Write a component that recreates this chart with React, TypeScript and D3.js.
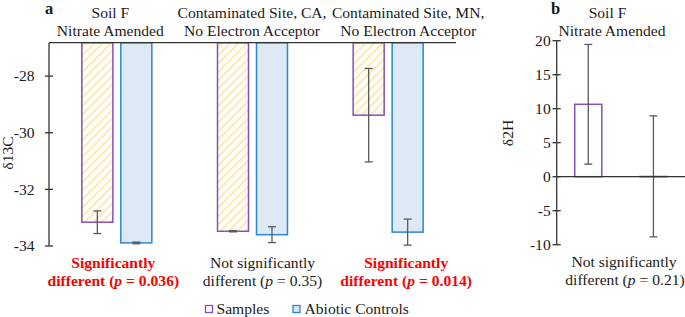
import React from "react";
import * as d3 from "d3";

const categoriesA = ["Soil F|Nitrate Amended", "Contaminated Site, CA,|No Electron Acceptor", "Contaminated Site, MN,|No Electron Acceptor"];
const seriesNames = ["Samples", "Abiotic Controls"];
const samplesA = [-33.16, -33.48, -29.38];
const samplesAErr = [0.4, 0.02, 1.65];
const abioticA = [-33.89, -33.6, -33.51];
const abioticAErr = [0.03, 0.28, 0.46];
const ticksA = [-28, -30, -32, -34];
const notesA = [
  { l1: "Significantly", l2: "different (", p: "0.036", sig: true },
  { l1: "Not significantly", l2: "different (", p: "0.35", sig: false },
  { l1: "Significantly", l2: "different (", p: "0.014", sig: true },
];

const categoriesB = ["Soil F|Nitrate Amended"];
const samplesB = [10.65];
const samplesBErr = [8.8];
const abioticB = [0.05];
const abioticBErr = [8.9];
const ticksB = [20, 15, 10, 5, 0, -5, -10];

// layout: label offsets (px) relative to the category band centre
const headOffsetA = [-6.5, -0.5, 20];
const noteOffsetA = [-3.5, 10, 18];

const PURPLE = "#8a4cc2";
const BLUE = "#2a86d8";
const BLUEFILL = "#dde9f5";
const ERR = "#5a5a5a";
const TXT = "#1a1a1a";
const FONT = "'Liberation Serif', 'Times New Roman', serif";
const FS = 15.6;

export default function App() {
  const W = 685, H = 317;
  const xA = d3.scaleBand().domain(categoriesA).range([49, 456]).paddingInner(0).paddingOuter(0);
  const xSubA = d3.scaleBand().domain(seriesNames).range([0, xA.bandwidth()]).paddingInner(0.205).paddingOuter(0.842);
  const yA = d3.scaleLinear().domain([-34, -26.82]).range([246, 42.7]);
  const topA = yA(-26.82);

  const xB = d3.scaleBand().domain(categoriesB).range([556.7, 685]).paddingInner(0).paddingOuter(0);
  const xSubB = d3.scaleBand().domain(seriesNames).range([0, xB.bandwidth()]).paddingInner(0.585).paddingOuter(0.277);
  const yB = d3.scaleLinear().domain([-10, 20]).range([244.7, 40.7]);

  const errBar = (cx: number, y1: number, y2: number, key: string) => (
    <g key={key} stroke={ERR} strokeWidth={1.3}>
      <line x1={cx} x2={cx} y1={y1} y2={y2} />
      <line x1={cx - 4} x2={cx + 4} y1={y1} y2={y1} />
      <line x1={cx - 4} x2={cx + 4} y1={y2} y2={y2} />
    </g>
  );

  return (
    <svg width={W} height={H} style={{ position: "absolute", left: 0, top: 0 }} fontFamily={FONT}>
      <defs>
        <pattern id="hatch" patternUnits="userSpaceOnUse" width={6} height={6} patternTransform="rotate(45)">
          <rect width={6} height={6} fill="#ffffff" />
          <rect width={2.3} height={6} fill="#fbeab9" />
        </pattern>
      </defs>
      <rect width={W} height={H} fill="#fff" />

      {/* Panel a */}
      <text x={45} y={13.5} fontWeight="bold" fontSize={16.5} fill={TXT}>a</text>
      {categoriesA.map((c, i) => {
        const [l1, l2] = c.split("|");
        const cx = (xA(c) as number) + xA.bandwidth() / 2 + headOffsetA[i];
        return (
          <g key={c} fontSize={FS} fill={TXT} textAnchor="middle">
            <text x={cx} y={17.5}>{l1}</text>
            <text x={cx} y={35.5}>{l2}</text>
          </g>
        );
      })}
      {categoriesA.map((c, i) => {
        const x0 = xA(c) as number;
        const xs = x0 + (xSubA("Samples") as number);
        const xa = x0 + (xSubA("Abiotic Controls") as number);
        const bw = xSubA.bandwidth();
        return (
          <g key={"b" + c}>
            <rect x={xs} y={topA} width={bw} height={yA(samplesA[i]) - topA} fill="url(#hatch)" stroke={PURPLE} strokeWidth={1.5} />
            <rect x={xa} y={topA} width={bw} height={yA(abioticA[i]) - topA} fill={BLUEFILL} stroke={BLUE} strokeWidth={1.5} />
            {errBar(xs + bw / 2, yA(samplesA[i] + samplesAErr[i]), yA(samplesA[i] - samplesAErr[i]), "es")}
            {errBar(xa + bw / 2, yA(abioticA[i] + abioticAErr[i]), yA(abioticA[i] - abioticAErr[i]), "ea")}
          </g>
        );
      })}
      <line x1={49} x2={456} y1={topA} y2={topA} stroke="#333" strokeWidth={1.3} />
      <line x1={49} x2={49} y1={topA} y2={yA(-34)} stroke="#333" strokeWidth={1.3} />
      {ticksA.map((t) => (
        <g key={t}>
          <line x1={45} x2={53} y1={yA(t)} y2={yA(t)} stroke="#333" strokeWidth={1.3} />
          <text x={34.5} y={yA(t) + 5.2} textAnchor="end" fontSize={FS} fill={TXT}>{t < 0 ? "-" + Math.abs(t) : t}</text>
        </g>
      ))}
      <text transform="translate(12.5,153) rotate(-90)" textAnchor="middle" fontSize={FS} fill={TXT}>δ13C</text>
      {notesA.map((n, i) => {
        const c = categoriesA[i];
        const cx = (xA(c) as number) + xA.bandwidth() / 2 + noteOffsetA[i];
        const col = n.sig ? "#ff0000" : TXT;
        const fw = n.sig ? "bold" : "normal";
        return (
          <g key={"n" + i} fontSize={FS} fill={col} fontWeight={fw} textAnchor="middle">
            <text x={cx} y={268.3}>{n.l1}</text>
            <text x={cx} y={285.7}>
              {n.l2}<tspan fontStyle="italic">p</tspan>{" = " + n.p + ")"}
            </text>
          </g>
        );
      })}
      {/* Legend */}
      <rect x={205.5} y={305.5} width={7} height={7} fill="#fff" stroke={PURPLE} strokeWidth={1.3} />
      <text x={216.5} y={314.3} fontSize={FS} fill={TXT}>{seriesNames[0]}</text>
      <rect x={293} y={305.5} width={7} height={7} fill={BLUEFILL} stroke={BLUE} strokeWidth={1.3} />
      <text x={304.5} y={314.3} fontSize={FS} fill={TXT}>{seriesNames[1]}</text>

      {/* Panel b */}
      <text x={551} y={13.5} fontWeight="bold" fontSize={16.5} fill={TXT}>b</text>
      <g fontSize={FS} fill={TXT} textAnchor="middle">
        <text x={607.5} y={18.3}>{categoriesB[0].split("|")[0]}</text>
        <text x={612} y={36}>{categoriesB[0].split("|")[1]}</text>
      </g>
      {categoriesB.map((c, i) => {
        const x0 = xB(c) as number;
        const xs = x0 + (xSubB("Samples") as number);
        const xa = x0 + (xSubB("Abiotic Controls") as number);
        const bw = xSubB.bandwidth();
        const y0 = yB(0);
        return (
          <g key={"bb" + c}>
            <rect x={xs} y={yB(samplesB[i])} width={bw} height={y0 - yB(samplesB[i])} fill="#fff" stroke={PURPLE} strokeWidth={1.5} />
            <rect x={xa} y={yB(abioticB[i])} width={bw} height={Math.max(0.5, y0 - yB(abioticB[i]))} fill={BLUEFILL} stroke={BLUE} strokeWidth={1.3} />
            {errBar(xs + bw / 2, yB(samplesB[i] + samplesBErr[i]), yB(samplesB[i] - samplesBErr[i]), "es")}
            {errBar(xa + bw / 2, yB(abioticB[i] + abioticBErr[i]), yB(abioticB[i] - abioticBErr[i]), "ea")}
          </g>
        );
      })}
      <line x1={556.7} x2={685} y1={yB(0)} y2={yB(0)} stroke="#333" strokeWidth={1.3} />
      <line x1={556.7} x2={556.7} y1={yB(20)} y2={yB(-10)} stroke="#333" strokeWidth={1.3} />
      {ticksB.map((t) => (
        <g key={"tb" + t}>
          <line x1={552.5} x2={560.7} y1={yB(t)} y2={yB(t)} stroke="#333" strokeWidth={1.3} />
          <text x={550.7} y={yB(t) + 5.2} textAnchor="end" fontSize={FS} fill={TXT}>{t < 0 ? "-" + Math.abs(t) : t}</text>
        </g>
      ))}
      <text transform="translate(513,133) rotate(-90)" textAnchor="middle" fontSize={FS} fill={TXT}>δ2H</text>
      <g fontSize={FS} fill={TXT} textAnchor="middle">
        <text x={624} y={266.7}>Not significantly</text>
        <text x={625} y={285}>different (<tspan fontStyle="italic">p</tspan> = 0.21)</text>
      </g>
    </svg>
  );
}
